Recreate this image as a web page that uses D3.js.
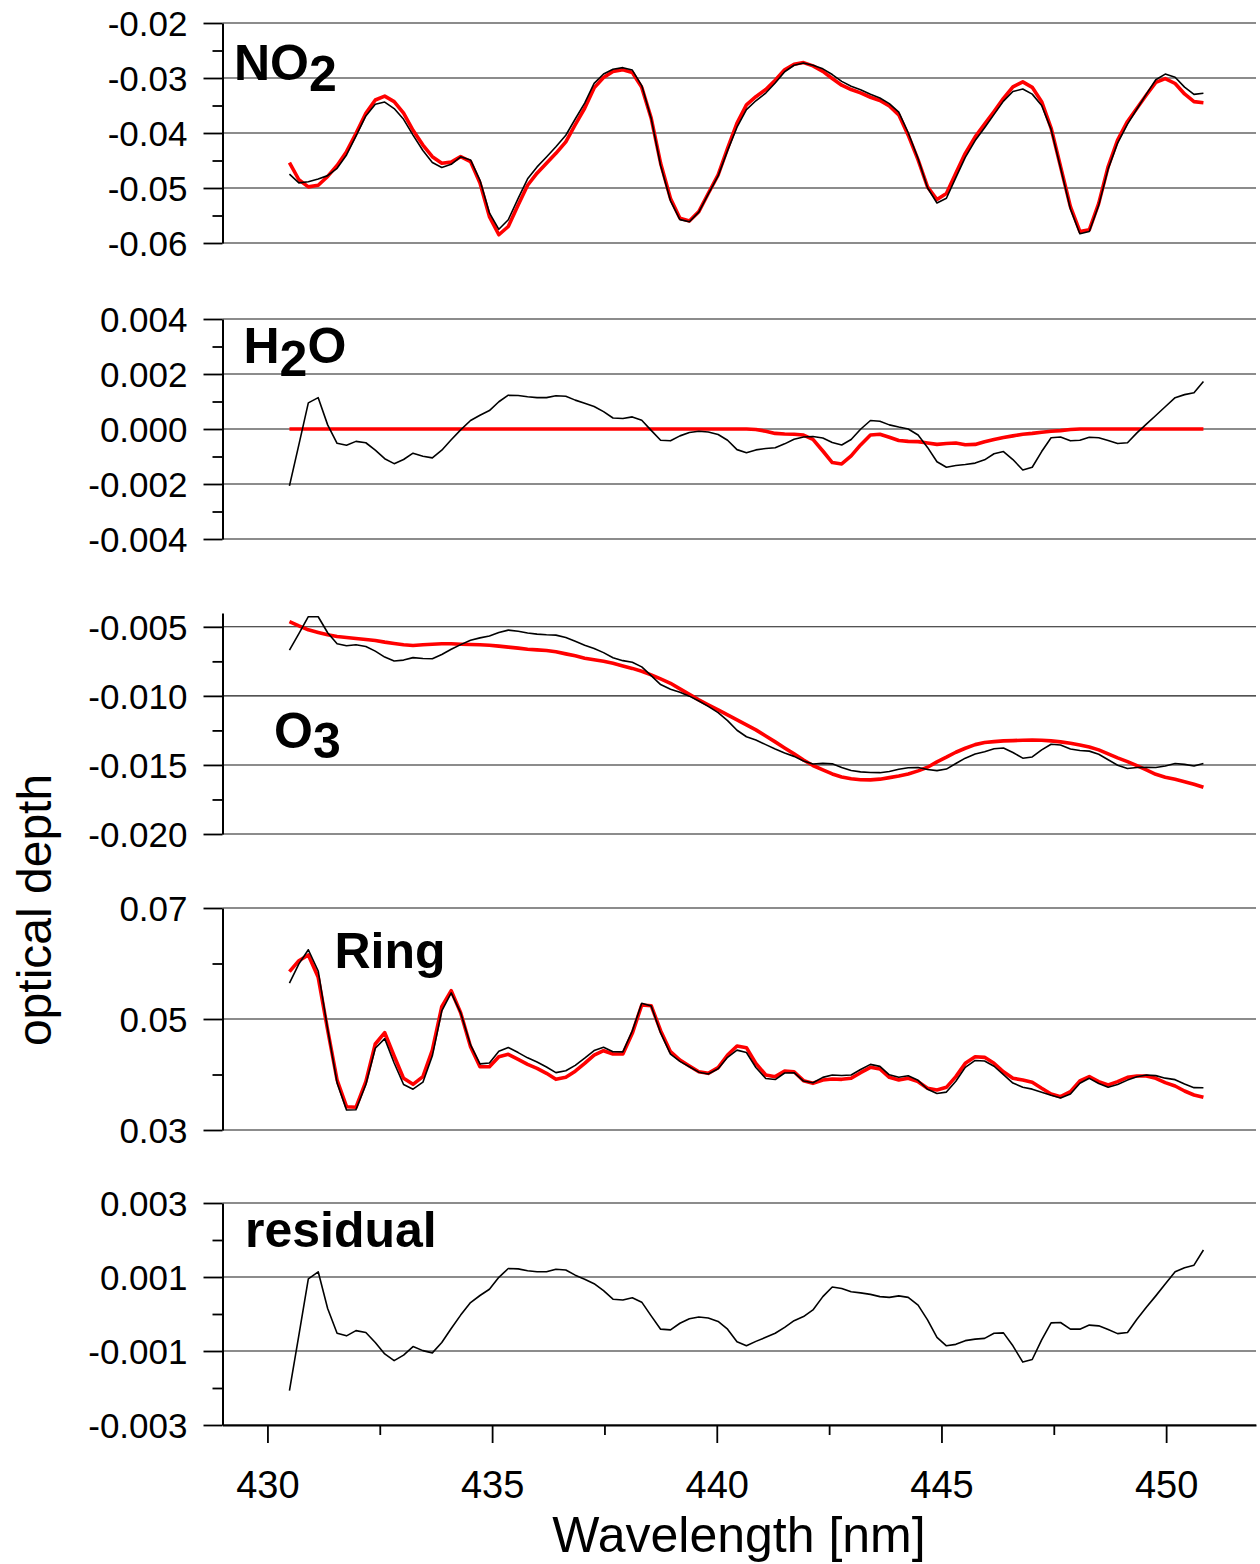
<!DOCTYPE html>
<html><head><meta charset="utf-8">
<script src="https://cdn.jsdelivr.net/npm/d3@7"></script>
<style>
body{margin:0;background:#fff}
svg{display:block}
text{font-family:"Liberation Sans",Arial,Helvetica,sans-serif}
</style>
</head><body>
<svg id="chart" width="1260" height="1564"></svg>
<script>
// ---------------- DATA ----------------
const wavelength = [430.49,430.70,430.91,431.13,431.34,431.55,431.76,431.97,432.19,432.40,
432.61,432.82,433.03,433.24,433.46,433.67,433.88,434.09,434.30,434.52,
434.73,434.94,435.15,435.36,435.58,435.79,436.00,436.21,436.42,436.64,
436.85,437.06,437.27,437.48,437.69,437.91,438.12,438.33,438.54,438.75,
438.97,439.18,439.39,439.60,439.81,440.03,440.24,440.45,440.66,440.87,
441.09,441.30,441.51,441.72,441.93,442.14,442.36,442.57,442.78,442.99,
443.20,443.42,443.63,443.84,444.05,444.26,444.48,444.69,444.90,445.11,
445.32,445.53,445.75,445.96,446.17,446.38,446.59,446.81,447.02,447.23,
447.44,447.65,447.87,448.08,448.29,448.50,448.71,448.92,449.14,449.35,
449.56,449.77,449.98,450.20,450.41,450.62,450.83];

const no2Measured = [-0.04747,-0.04907,-0.04885,-0.04836,-0.04775,-0.04642,-0.04399,-0.04055,-0.03690,-0.03477,
-0.03438,-0.03556,-0.03751,-0.04038,-0.04319,-0.04535,-0.04627,-0.04569,-0.04433,-0.04489,
-0.04860,-0.05453,-0.05751,-0.05577,-0.05188,-0.04833,-0.04616,-0.04436,-0.04249,-0.04041,
-0.03745,-0.03456,-0.03098,-0.02927,-0.02840,-0.02812,-0.02856,-0.03138,-0.03735,-0.04591,
-0.05233,-0.05575,-0.05613,-0.05438,-0.05111,-0.04780,-0.04321,-0.03895,-0.03576,-0.03414,
-0.03273,-0.03092,-0.02886,-0.02768,-0.02727,-0.02769,-0.02833,-0.02937,-0.03061,-0.03150,
-0.03213,-0.03297,-0.03363,-0.03465,-0.03621,-0.03995,-0.04466,-0.04996,-0.05273,-0.05186,
-0.04812,-0.04442,-0.04138,-0.03906,-0.03662,-0.03421,-0.03246,-0.03200,-0.03293,-0.03500,
-0.03934,-0.04633,-0.05381,-0.05831,-0.05790,-0.05312,-0.04652,-0.04183,-0.03840,-0.03564,
-0.03292,-0.03031,-0.02929,-0.02986,-0.03165,-0.03298,-0.03277];

const no2Fit = [-0.0454,-0.0485,-0.0498,-0.0495,-0.0479,-0.0459,-0.0434,-0.0401,-0.0364,-0.0340,
-0.0333,-0.0343,-0.0364,-0.0395,-0.0422,-0.0443,-0.0455,-0.0453,-0.0443,-0.0452,
-0.0491,-0.0552,-0.0585,-0.0570,-0.0531,-0.0495,-0.0473,-0.0455,-0.0437,-0.0416,
-0.0385,-0.0355,-0.0318,-0.0299,-0.0288,-0.0285,-0.0290,-0.0317,-0.0373,-0.0455,
-0.0519,-0.0555,-0.0560,-0.0543,-0.0510,-0.0476,-0.0428,-0.0382,-0.0349,-0.0334,
-0.0321,-0.0304,-0.0285,-0.0275,-0.0272,-0.0278,-0.0288,-0.0301,-0.0313,-0.0321,
-0.0327,-0.0335,-0.0341,-0.0351,-0.0367,-0.0404,-0.0449,-0.0498,-0.0521,-0.0510,
-0.0473,-0.0437,-0.0407,-0.0384,-0.0361,-0.0337,-0.0316,-0.0307,-0.0317,-0.0343,
-0.0391,-0.0461,-0.0534,-0.0579,-0.0576,-0.0528,-0.0461,-0.0413,-0.0379,-0.0355,
-0.0331,-0.0308,-0.0301,-0.0310,-0.0329,-0.0343,-0.0345];

const h2oMeasured = [-0.00207,-0.00057,0.00095,0.00114,0.00015,-0.00052,-0.00059,-0.00045,-0.00050,-0.00077,
-0.00108,-0.00126,-0.00111,-0.00088,-0.00099,-0.00105,-0.00077,-0.00039,-0.00003,0.00031,
0.00050,0.00067,0.00099,0.00123,0.00122,0.00117,0.00114,0.00114,0.00121,0.00119,
0.00105,0.00094,0.00082,0.00063,0.00040,0.00038,0.00044,0.00032,-0.00005,-0.00041,
-0.00043,-0.00025,-0.00013,-0.00008,-0.00011,-0.00020,-0.00041,-0.00075,-0.00086,-0.00076,
-0.00071,-0.00068,-0.00054,-0.00037,-0.00029,-0.00027,-0.00033,-0.00049,-0.00058,-0.00038,
-0.00001,0.00031,0.00028,0.00015,0.00007,0.00000,-0.00022,-0.00067,-0.00119,-0.00139,
-0.00133,-0.00129,-0.00124,-0.00112,-0.00090,-0.00082,-0.00111,-0.00149,-0.00139,-0.00082,
-0.00032,-0.00029,-0.00043,-0.00041,-0.00030,-0.00032,-0.00042,-0.00053,-0.00050,-0.00014,
0.00018,0.00049,0.00081,0.00114,0.00125,0.00132,0.00173];

const h2oFit = [0,0,0,0,0,0,0,0,0,0,
0,0,0,0,0,0,0,0,0,0,
0,0,0,0,0,0,0,0,0,0,
0,0,0,0,0,0,0,0,0,0,
0,0,0,0,0,0,0,0,0,-0.00002,
-0.00008,-0.00016,-0.00018,-0.00019,-0.00022,-0.00038,-0.00080,-0.00122,-0.00127,-0.00098,
-0.00058,-0.00022,-0.00019,-0.00030,-0.00042,-0.00045,-0.00046,-0.00051,-0.00056,-0.00053,
-0.00051,-0.00057,-0.00056,-0.00046,-0.00038,-0.00031,-0.00025,-0.00019,-0.00016,-0.00012,
-0.00008,-0.00006,-0.00002,0,0,0,0,0,0,0,
0,0,0,0,0,0,0];

const o3Measured = [-0.00669,-0.00550,-0.00427,-0.00427,-0.00543,-0.00622,-0.00637,-0.00630,-0.00642,-0.00676,
-0.00719,-0.00747,-0.00741,-0.00723,-0.00729,-0.00731,-0.00700,-0.00662,-0.00629,-0.00597,
-0.00580,-0.00566,-0.00541,-0.00524,-0.00532,-0.00545,-0.00553,-0.00558,-0.00560,-0.00577,
-0.00605,-0.00633,-0.00657,-0.00687,-0.00724,-0.00745,-0.00757,-0.00790,-0.00853,-0.00918,
-0.00952,-0.00974,-0.01002,-0.01037,-0.01076,-0.01121,-0.01179,-0.01249,-0.01296,-0.01320,
-0.01353,-0.01385,-0.01413,-0.01438,-0.01471,-0.01493,-0.01489,-0.01492,-0.01518,-0.01540,
-0.01550,-0.01555,-0.01556,-0.01547,-0.01531,-0.01520,-0.01519,-0.01533,-0.01541,-0.01530,
-0.01490,-0.01451,-0.01421,-0.01404,-0.01383,-0.01377,-0.01410,-0.01451,-0.01442,-0.01391,
-0.01350,-0.01356,-0.01384,-0.01396,-0.01400,-0.01423,-0.01462,-0.01502,-0.01526,-0.01519,
-0.01518,-0.01519,-0.01508,-0.01490,-0.01496,-0.01508,-0.01489];

const o3Fit = [-0.00462,-0.00493,-0.00522,-0.00541,-0.00558,-0.00570,-0.00578,-0.00585,-0.00592,-0.00599,
-0.00611,-0.00621,-0.00630,-0.00635,-0.00630,-0.00626,-0.00623,-0.00623,-0.00626,-0.00628,
-0.00630,-0.00633,-0.00640,-0.00647,-0.00654,-0.00662,-0.00667,-0.00672,-0.00681,-0.00696,
-0.00710,-0.00727,-0.00739,-0.00750,-0.00764,-0.00783,-0.00801,-0.00822,-0.00848,-0.00877,
-0.00909,-0.00949,-0.00989,-0.01029,-0.01065,-0.01101,-0.01138,-0.01174,-0.01210,-0.01246,
-0.01290,-0.01333,-0.01377,-0.01420,-0.01464,-0.01504,-0.01536,-0.01565,-0.01587,-0.01600,
-0.01607,-0.01608,-0.01603,-0.01592,-0.01580,-0.01565,-0.01543,-0.01517,-0.01478,-0.01444,
-0.01408,-0.01379,-0.01353,-0.01338,-0.01331,-0.01326,-0.01324,-0.01321,-0.01319,-0.01321,
-0.01326,-0.01333,-0.01343,-0.01355,-0.01370,-0.01391,-0.01420,-0.01449,-0.01476,-0.01505,
-0.01536,-0.01568,-0.01589,-0.01604,-0.01621,-0.01640,-0.01662];

const ringMeasured = [0.05646,0.05994,0.06248,0.05865,0.04817,0.03849,0.03361,0.03364,0.03821,0.04473,
0.04646,0.04207,0.03820,0.03735,0.03862,0.04336,0.05145,0.05471,0.05111,0.04533,
0.04191,0.04208,0.04420,0.04486,0.04395,0.04300,0.04225,0.04135,0.04034,0.04068,
0.04165,0.04294,0.04432,0.04492,0.04409,0.04407,0.04786,0.05284,0.05235,0.04749,
0.04368,0.04236,0.04140,0.04042,0.04010,0.04103,0.04310,0.04439,0.04397,0.04127,
0.03928,0.03909,0.04027,0.04032,0.03882,0.03852,0.03948,0.03992,0.03982,0.03991,
0.04090,0.04182,0.04146,0.03994,0.03950,0.03976,0.03895,0.03735,0.03658,0.03683,
0.03879,0.04129,0.04253,0.04243,0.04149,0.03999,0.03845,0.03771,0.03736,0.03681,
0.03625,0.03578,0.03650,0.03842,0.03931,0.03839,0.03769,0.03818,0.03899,0.03959,
0.03991,0.03980,0.03934,0.03907,0.03828,0.03763,0.03762];

const ringFit = [0.05853,0.06051,0.06153,0.05751,0.04802,0.03901,0.03420,0.03409,0.03871,0.04550,
0.04754,0.04333,0.03931,0.03823,0.03961,0.04441,0.05222,0.05510,0.05114,0.04502,
0.04141,0.04141,0.04321,0.04363,0.04273,0.04183,0.04111,0.04021,0.03913,0.03949,
0.04060,0.04200,0.04350,0.04429,0.04369,0.04369,0.04742,0.05252,0.05240,0.04790,
0.04411,0.04261,0.04153,0.04050,0.04021,0.04123,0.04351,0.04514,0.04483,0.04201,
0.03991,0.03961,0.04063,0.04050,0.03889,0.03841,0.03901,0.03919,0.03913,0.03931,
0.04033,0.04129,0.04099,0.03949,0.03901,0.03931,0.03871,0.03751,0.03721,0.03769,
0.03961,0.04201,0.04321,0.04309,0.04201,0.04050,0.03931,0.03901,0.03859,0.03751,
0.03649,0.03601,0.03691,0.03883,0.03961,0.03871,0.03811,0.03871,0.03949,0.03973,
0.03973,0.03931,0.03853,0.03793,0.03703,0.03631,0.03589];

const residual = [-0.00207,-0.00057,0.00095,0.00114,0.00015,-0.00052,-0.00059,-0.00045,-0.00050,-0.00077,
-0.00108,-0.00126,-0.00111,-0.00088,-0.00099,-0.00105,-0.00077,-0.00039,-0.00003,0.00031,
0.00050,0.00067,0.00099,0.00123,0.00122,0.00117,0.00114,0.00114,0.00121,0.00119,
0.00105,0.00094,0.00082,0.00063,0.00040,0.00038,0.00044,0.00032,-0.00005,-0.00041,
-0.00043,-0.00025,-0.00013,-0.00008,-0.00011,-0.00020,-0.00041,-0.00075,-0.00086,-0.00074,
-0.00063,-0.00052,-0.00036,-0.00018,-0.00007,0.00011,0.00047,0.00073,0.00069,0.00060,
0.00057,0.00053,0.00047,0.00045,0.00049,0.00045,0.00024,-0.00016,-0.00063,-0.00086,
-0.00082,-0.00072,-0.00068,-0.00066,-0.00052,-0.00051,-0.00086,-0.00130,-0.00123,-0.00070,
-0.00024,-0.00023,-0.00041,-0.00041,-0.00030,-0.00032,-0.00042,-0.00053,-0.00050,-0.00014,
0.00018,0.00049,0.00081,0.00114,0.00125,0.00132,0.00173];

// tick values and labels
const xTicks = [430, 435, 440, 445, 450];
const xMinorTicks = [432.5, 437.5, 442.5, 447.5];

const no2Ticks = [-0.06, -0.05, -0.04, -0.03, -0.02];
const no2TickLabels = ["-0.06", "-0.05", "-0.04", "-0.03", "-0.02"];
const no2MinorTicks = [-0.055, -0.045, -0.035, -0.025];

const h2oTicks = [-0.004, -0.002, 0, 0.002, 0.004];
const h2oTickLabels = ["-0.004", "-0.002", "0.000", "0.002", "0.004"];
const h2oMinorTicks = [-0.003, -0.001, 0.001, 0.003];

const o3Ticks = [-0.020, -0.015, -0.010, -0.005];
const o3TickLabels = ["-0.020", "-0.015", "-0.010", "-0.005"];
const o3MinorTicks = [-0.0175, -0.0125, -0.0075];

const ringTicks = [0.03, 0.05, 0.07];
const ringTickLabels = ["0.03", "0.05", "0.07"];
const ringMinorTicks = [0.04, 0.06];

const residualTicks = [-0.003, -0.001, 0.001, 0.003];
const residualTickLabels = ["-0.003", "-0.001", "0.001", "0.003"];
const residualMinorTicks = [-0.002, 0, 0.002];

// ---------------- LAYOUT ----------------
const svg = d3.select("#chart");
const axisX = 222.5, plotRight = 1256;
const x = d3.scaleLinear().domain([429, 452]).range([axisX, plotRight]);

const panels = [
  {domain:[-0.06,-0.02], top:23, bottom:243, ticks:no2Ticks, labels:no2TickLabels, minor:no2MinorTicks,
   meas:no2Measured, fit:no2Fit, name:[["NO",0],["2",11]], lx:234, ly:80},
  {domain:[-0.004,0.004], top:319, bottom:539, ticks:h2oTicks, labels:h2oTickLabels, minor:h2oMinorTicks,
   meas:h2oMeasured, fit:h2oFit, name:[["H",0],["2",13],["O",-13]], lx:243.5, ly:363},
  {domain:[-0.020,-0.004], top:613, bottom:834, ticks:o3Ticks, labels:o3TickLabels, minor:o3MinorTicks,
   meas:o3Measured, fit:o3Fit, name:[["O",0],["3",10]], lx:274, ly:748},
  {domain:[0.03,0.07], top:908, bottom:1130, ticks:ringTicks, labels:ringTickLabels, minor:ringMinorTicks,
   meas:ringMeasured, fit:ringFit, name:[["Ring",0]], lx:334.5, ly:968},
  {domain:[-0.003,0.003], top:1203, bottom:1425, ticks:residualTicks, labels:residualTickLabels, minor:residualMinorTicks,
   meas:residual, fit:null, name:[["residual",0]], lx:245, ly:1247}
];

panels.forEach(p => {
  const y = d3.scaleLinear().domain(p.domain).range([p.bottom, p.top]);
  const g = svg.append("g");

  // gridlines at major ticks
  g.append("g").selectAll("line").data(p.ticks).join("line")
    .attr("x1", axisX).attr("x2", plotRight)
    .attr("y1", d => y(d)).attr("y2", d => y(d))
    .attr("stroke", "#1a1a1a").attr("stroke-width", 1.1);

  // minor ticks
  g.append("g").attr("transform", `translate(${axisX},0)`)
    .call(d3.axisLeft(y).tickValues(p.minor).tickSize(10).tickSizeOuter(0).tickFormat(""))
    .call(a => a.select(".domain").remove())
    .call(a => a.selectAll(".tick line").attr("stroke", "#000").attr("stroke-width", 1.8));

  // major axis
  g.append("g").attr("transform", `translate(${axisX},0)`)
    .call(d3.axisLeft(y).tickValues(p.ticks).tickSize(19).tickSizeOuter(0).tickPadding(16)
      .tickFormat(d => p.labels[p.ticks.indexOf(d)]))
    .call(a => a.select(".domain").attr("stroke", "#000").attr("stroke-width", 2))
    .call(a => a.selectAll(".tick line").attr("stroke", "#000").attr("stroke-width", 1.8))
    .call(a => a.selectAll(".tick text").attr("font-size", 35).attr("fill", "#000")
      .attr("font-family", "'Liberation Sans', Arial, sans-serif").attr("dy", "0.36em"));

  const line = d3.line().x((d, i) => x(wavelength[i])).y(d => y(d));
  if (p.fit) {
    g.append("path").datum(p.fit).attr("d", line)
      .attr("fill", "none").attr("stroke", "#ff0000").attr("stroke-width", 3.6)
      .attr("stroke-linejoin", "round");
  }
  g.append("path").datum(p.meas).attr("d", line)
    .attr("fill", "none").attr("stroke", "#000").attr("stroke-width", 1.6)
    .attr("stroke-linejoin", "round");

  // panel label
  const t = g.append("text").attr("x", p.lx).attr("y", p.ly)
    .attr("font-size", 50).attr("font-weight", "bold").attr("fill", "#000");
  p.name.forEach(([s, dy]) => t.append("tspan").attr("dy", dy).text(s));
});

// bottom x axis
const xMinor = svg.append("g").attr("transform", "translate(0,1425)")
  .call(d3.axisBottom(x).tickValues(xMinorTicks).tickSize(10).tickSizeOuter(0).tickFormat(""))
  .call(a => a.select(".domain").remove())
  .call(a => a.selectAll(".tick line").attr("stroke", "#000").attr("stroke-width", 1.8));

svg.append("g").attr("transform", "translate(0,1425)")
  .call(d3.axisBottom(x).tickValues(xTicks).tickSize(18).tickSizeOuter(0).tickFormat(d3.format("d")))
  .call(a => a.select(".domain").attr("stroke", "#000").attr("stroke-width", 2.2))
  .call(a => a.selectAll(".tick line").attr("stroke", "#000").attr("stroke-width", 1.8))
  .call(a => a.selectAll(".tick text").attr("font-size", 38).attr("fill", "#000")
    .attr("font-family", "'Liberation Sans', Arial, sans-serif")
    .attr("y", 73).attr("dy", null));

// axis titles
svg.append("text").attr("x", 739).attr("y", 1552).attr("text-anchor", "middle")
  .attr("font-size", 50).attr("fill", "#000").text("Wavelength [nm]");
svg.append("text").attr("transform", "translate(51,910) rotate(-90)").attr("text-anchor", "middle")
  .attr("font-size", 48).attr("fill", "#000").text("optical depth");
</script>
</body></html>
